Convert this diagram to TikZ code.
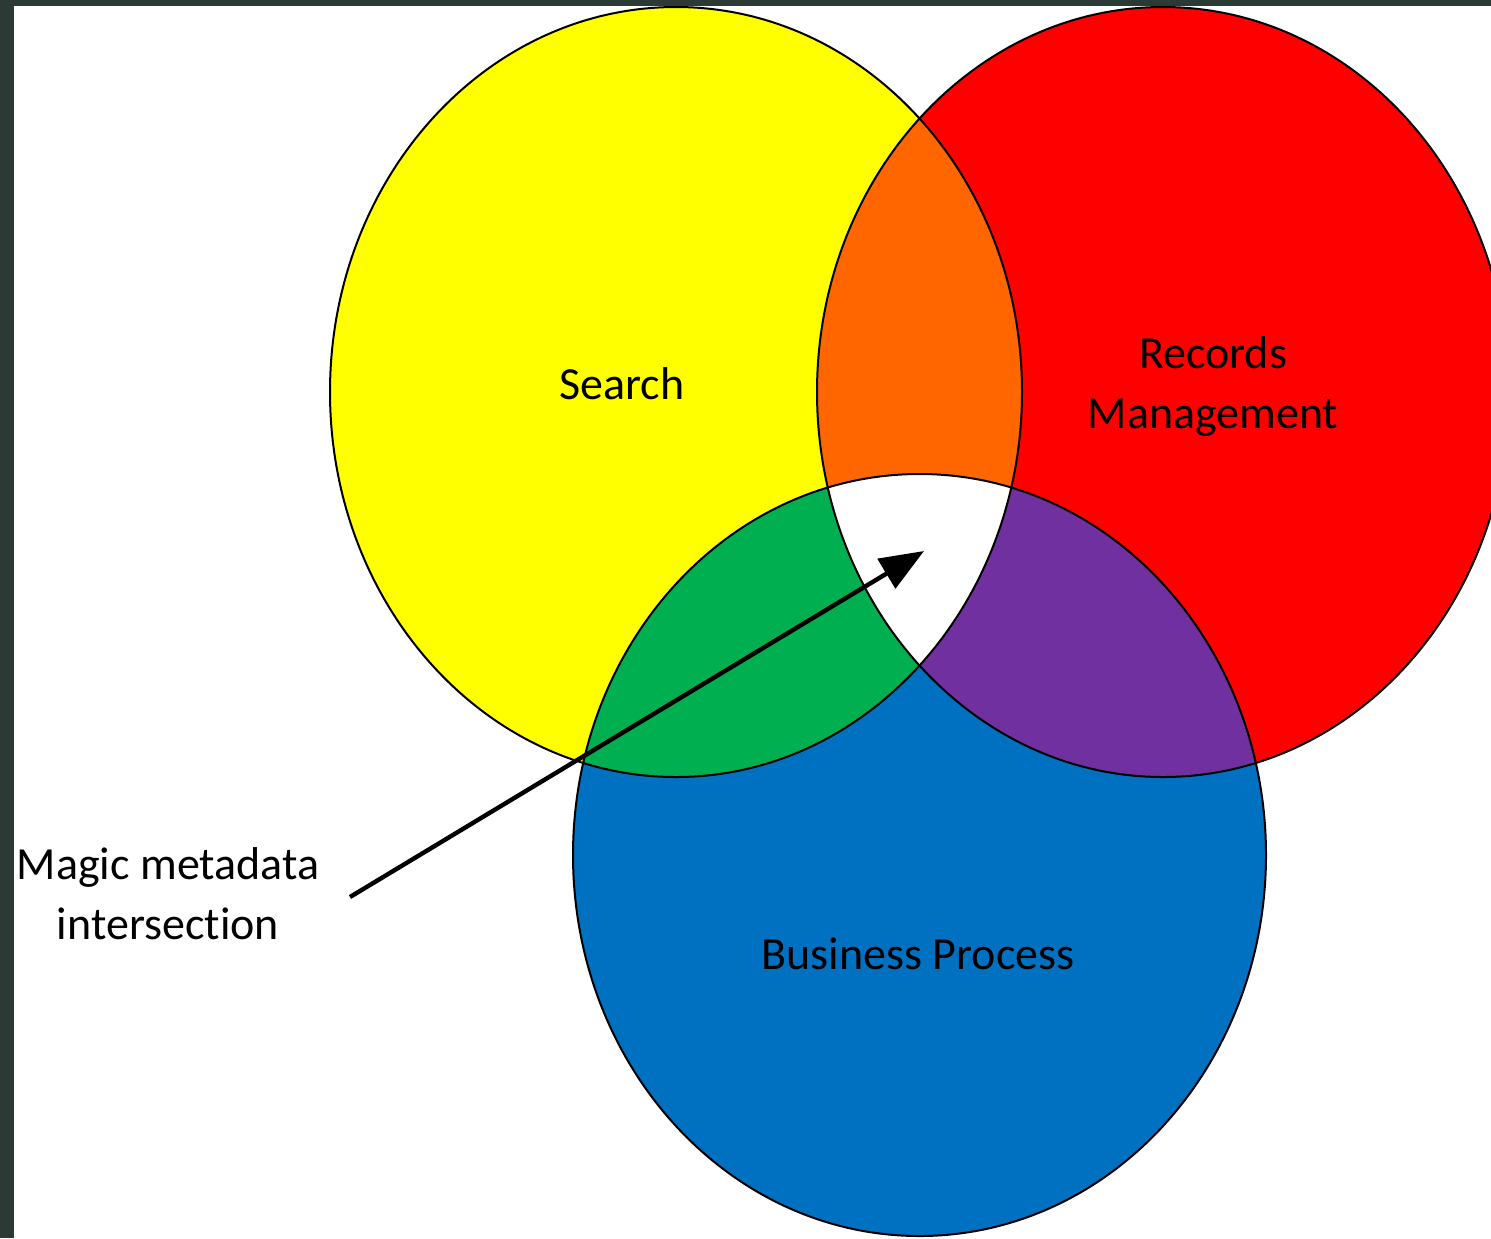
\documentclass[tikz,border=0pt]{standalone}
\usepackage{fontspec}
\setmainfont[Ligatures=NoCommon]{Carlito}
\usetikzlibrary{arrows.meta}
\definecolor{frame}{RGB}{43,58,52}
\definecolor{cyellow}{RGB}{255,255,0}
\definecolor{cred}{RGB}{255,0,0}
\definecolor{corange}{RGB}{255,102,0}
\definecolor{cgreen}{RGB}{0,176,80}
\definecolor{cpurple}{RGB}{112,48,160}
\definecolor{cblue}{RGB}{0,112,192}
\begin{document}
\begin{tikzpicture}[x=0.5pt,y=-0.5pt,
  lbl/.style={font=\fontsize{23}{30}\selectfont, text=black, align=center, inner sep=0pt},
  outline/.style={draw=black, line width=1pt},
  pointer/.style={draw=black, line width=2.2pt, -{Triangle[length=22pt,width=17pt]}}]
\useasboundingbox (0,0) rectangle (1491,1238);
\fill[frame] (0,0) rectangle (1491,1238);
\fill[white] (14,6) rectangle (1491,1238);
\begin{scope}
\clip (14,6) rectangle (1491,1238);
\def\ys{(676,392) ellipse [x radius=346, y radius=385]}
\def\rs{(1163,392) ellipse [x radius=346, y radius=385]}
\def\bs{(919.5,855) ellipse [x radius=346.5, y radius=381]}
\fill[cyellow] \ys;
\fill[cred] \rs;
\fill[cblue] \bs;
\begin{scope}
  \clip \rs;
  \fill[cpurple] \bs;
\end{scope}
\begin{scope}
  \clip \ys;
  \fill[corange] \rs;
  \fill[cgreen] \bs;
  \clip \rs;
  \fill[white] \bs;
\end{scope}
\draw[outline] \ys;
\draw[outline] \rs;
\draw[outline] \bs;
\end{scope}
\node[lbl, anchor=base] (search) at (622,399) {Search};
\node[lbl, anchor=base] (records) at (1213,428) {Records\\Management};
\node[lbl, anchor=base] (business) at (918,969) {Business Process};
\node[lbl, anchor=base] (magic) at (168,939) {Magic metadata\\intersection};
\coordinate (astart) at (350,897);
\coordinate (atip) at (924,551);
\draw[pointer] (astart) -- (atip);
\end{tikzpicture}
\end{document}
